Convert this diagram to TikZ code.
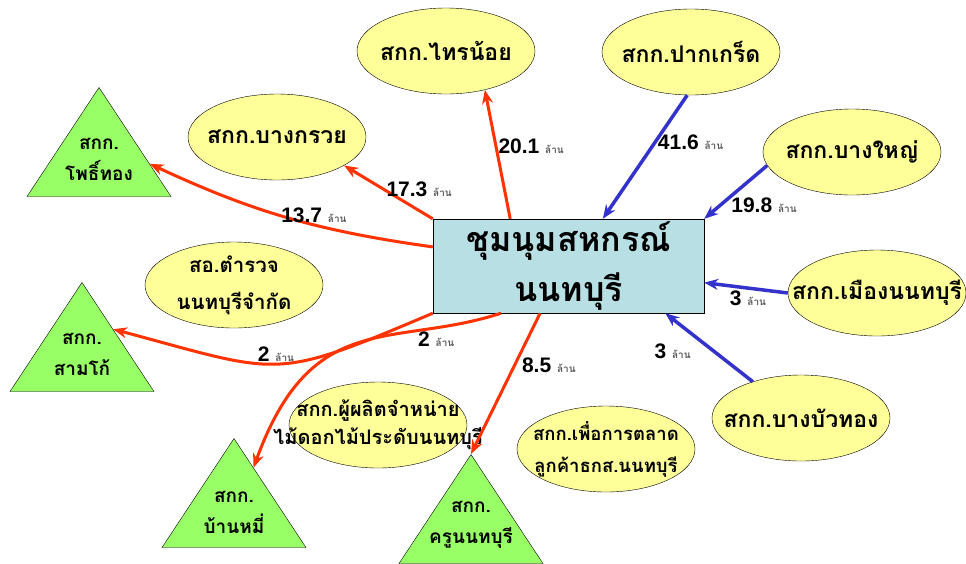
\documentclass[tikz,border=0pt]{standalone}
\usepackage{fontspec}
\setmainfont{Liberation Sans}
\newfontfamily\thaifont[Script=Thai]{Loma}
\usetikzlibrary{shapes.geometric,arrows.meta,calc}
\definecolor{coopyellow}{HTML}{FFFF99}
\definecolor{coopgreen}{HTML}{99FF66}
\definecolor{boxblue}{HTML}{B8DFE3}
\definecolor{outred}{HTML}{FF3300}
\definecolor{inblue}{HTML}{3333CC}
\newcommand{\lan}{{\thaifont\fontsize{10}{10}\selectfont\color{black!65}ล้าน}}
\newcommand{\nowide}[1]{\makebox[0pt]{#1}}

\begin{document}
\begin{tikzpicture}[x=1pt,y=-1pt,>={Stealth[length=14pt,width=11pt]},
    coop node/.style={ellipse,draw,fill=coopyellow,minimum width=178pt,minimum height=86pt,inner sep=0pt,align=center,font=\thaifont\bfseries\fontsize{23}{34}\selectfont},
    tri node/.style={isosceles triangle,isosceles triangle stretches,shape border rotate=90,draw,fill=coopgreen,minimum width=144pt,minimum height=109pt,inner sep=0pt,anchor=apex},
    tri text/.style={align=center,font=\thaifont\bfseries\fontsize{19}{31}\selectfont},
    out edge/.style={->,draw=outred,line width=3pt},
    in edge/.style={->,draw=inblue,line width=3.5pt},
    amount/.style={inner sep=1pt,font=\bfseries\fontsize{21}{21}\selectfont}]

    \useasboundingbox (0,0) rectangle (966,563);

    \node[draw,fill=boxblue,minimum width=271pt,minimum height=94pt,inner sep=0pt,align=center,font=\thaifont\bfseries\fontsize{34}{50}\selectfont] (c) at (568.5,266) {\nowide{ชุมนุมสหกรณ์}\\\nowide{นนทบุรี}};

    \node[coop node] (1) at (446,51) {\nowide{สกก.ไทรน้อย}};
    \node[coop node] (2) at (277,137) {\nowide{สกก.บางกรวย}};
    \node[coop node] (3) at (691,52) {\nowide{สกก.ปากเกร็ด}};
    \node[coop node] (4) at (852,152) {\nowide{สกก.บางใหญ่}};
    \node[coop node] (5) at (877,293) {\nowide{สกก.เมืองนนทบุรี}};
    \node[coop node] (6) at (801,418) {\nowide{สกก.บางบัวทอง}};
    \node[coop node,font=\thaifont\bfseries\fontsize{20.5}{37}\selectfont] (7) at (234,285) {\nowide{สอ.ตำรวจ}\\\nowide{นนทบุรีจำกัด}};
    \node[coop node,font=\thaifont\bfseries\fontsize{20}{28}\selectfont] (8) at (378,425) {\nowide{สกก.ผู้ผลิตจำหน่าย}\\\nowide{ไม้ดอกไม้ประดับนนทบุรี}};
    \node[coop node,font=\thaifont\bfseries\fontsize{18.5}{32}\selectfont] (9) at (606,449) {\nowide{สกก.เพื่อการตลาด}\\\nowide{ลูกค้าธกส.นนทบุรี}};

    \node[tri node] (t1) at (99,87) {};
    \node[tri node] (t2) at (82,282) {};
    \node[tri node] (t3) at (234,438) {};
    \node[tri node] (t4) at (471,454) {};
    \node[tri text] (t1l) at ($(t1.apex)+(0,72)$) {สกก.\\โพธิ์ทอง};
    \node[tri text] (t2l) at ($(t2.apex)+(0,72)$) {สกก.\\สามโก้};
    \node[tri text] (t3l) at ($(t3.apex)+(0,74)$) {สกก.\\บ้านหมี่};
    \node[tri text] (t4l) at ($(t4.apex)+(0,71)$) {สกก.\\ครูนนทบุรี};

    \path
        (c.172) edge[out edge,out=172,in=-25] node[amount,pos=.4,above]{13.7 \lan} ($(t1.apex)!.7!(t1.right corner)$)
        (c.north west) edge[out edge] node[amount,pos=.55,anchor=west]{17.3 \lan} (2.-23)
        (c.141) edge[out edge] node[amount,pos=.56,anchor=west]{20.1 \lan} (1.-45)
        (c.south west) edge[out edge,out=-157,in=-15,looseness=1.4] node[amount,pos=.5,above]{2 \lan} ($(t2.apex)!.43!(t2.right corner)$)
        (c.-145) edge[out edge,out=-162,in=70,out looseness=1,in looseness=1.5] node[amount,pos=.17,below,xshift=-12pt,yshift=-3pt]{2 \lan} ($(t3.apex)!.27!(t3.right corner)$)
        (c.-121) edge[out edge] node[amount,pos=.37,anchor=west,xshift=5pt]{8.5 \lan} (t4.apex)

        (3.-95) edge[in edge] node[amount,pos=.38,anchor=west]{41.6 \lan} (c.54)
        (4.-171) edge[in edge] node[amount,pos=.74,anchor=west,xshift=8pt]{19.8 \lan} (c.north east)
        (5.west) edge[in edge] node[amount,pos=.5,below,xshift=2pt]{3 \lan} (c.-7)
        (6.143) edge[in edge] node[amount,pos=.45,anchor=east,xshift=-20pt]{3 \lan} (c.-26);
\end{tikzpicture}
\end{document}
